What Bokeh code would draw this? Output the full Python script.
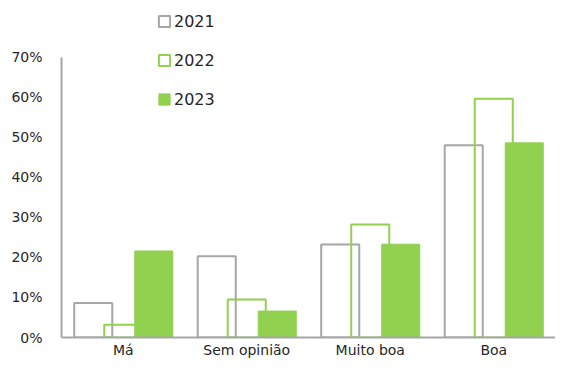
from bokeh.plotting import figure
from bokeh.models import (FactorRange, Range1d, Legend, LegendItem, NumeralTickFormatter,
                          ColumnDataSource, FixedTicker)
from bokeh.transform import dodge
from bokeh.embed import file_html
from bokeh.resources import INLINE

categories = ["Má", "Sem opinião", "Muito boa", "Boa"]
years = ["2021", "2022", "2023"]
v2021 = [0.086, 0.203, 0.232, 0.480]
v2022 = [0.032, 0.095, 0.282, 0.596]
v2023 = [0.216, 0.066, 0.233, 0.486]
y_ticks = [0.0, 0.1, 0.2, 0.3, 0.4, 0.5, 0.6, 0.7]
y_axis_max = 0.7
y_view_max = 0.8415  # extra headroom above the axis for the legend

GRAY = "#a6a6a6"
GREEN = "#92d050"
TEXT = "#262626"
FONT = "DejaVu Sans"

src = ColumnDataSource(dict(cat=categories, v2021=v2021, v2022=v2022, v2023=v2023))

p = figure(x_range=FactorRange(*categories, range_padding=0), y_range=Range1d(0, y_view_max),
           width=555, height=360, output_backend="svg", toolbar_location=None,
           min_border_left=61, min_border_right=0, min_border_top=0, min_border_bottom=21)

bw = 0.308
r1 = p.vbar(x=dodge('cat', -0.243, range=p.x_range), top='v2021', width=bw, source=src,
            fill_alpha=0, line_color=GRAY, line_width=2)
r2 = p.vbar(x=dodge('cat', 0.0, range=p.x_range), top='v2022', width=bw, source=src,
            fill_alpha=0, line_color=GREEN, line_width=2)
r3 = p.vbar(x=dodge('cat', 0.247, range=p.x_range), top='v2023', width=bw, source=src,
            fill_color=GREEN, line_color=GREEN, line_width=1)

p.xgrid.visible = False
p.ygrid.visible = False
p.outline_line_color = None

p.yaxis.ticker = FixedTicker(ticks=y_ticks)
p.yaxis.formatter = NumeralTickFormatter(format="0%")
p.yaxis.bounds = (0, y_axis_max)
for ax in (p.xaxis, p.yaxis):
    ax.axis_line_color = GRAY
    ax.axis_line_width = 2
    ax.major_tick_line_color = None
    ax.minor_tick_line_color = None
    ax.major_tick_out = 0
    ax.major_tick_in = 0
    ax.major_label_text_font = FONT
    ax.major_label_text_font_size = "14px"
    ax.major_label_text_color = TEXT
p.yaxis.major_label_standoff = 19
p.xaxis.major_label_standoff = 4

legend = Legend(items=[LegendItem(label=years[0], renderers=[r1]),
                       LegendItem(label=years[1], renderers=[r2]),
                       LegendItem(label=years[2], renderers=[r3])],
                location=(96, 228), orientation="vertical",
                glyph_width=14, glyph_height=14, label_standoff=3,
                label_height=20, spacing=19, padding=0, margin=0,
                border_line_alpha=0, background_fill_alpha=0,
                label_text_font=FONT, label_text_font_size="16px", label_text_color=TEXT)
p.add_layout(legend)

open("out.html", "w").write(file_html(p, INLINE))
